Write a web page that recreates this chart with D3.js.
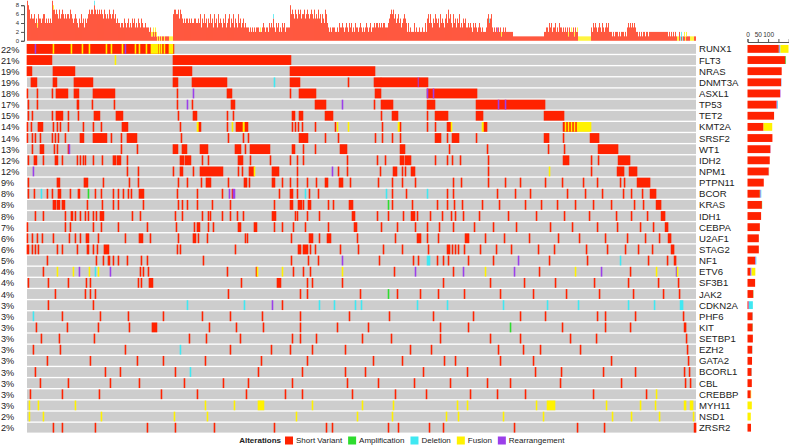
<!DOCTYPE html>
<html><head><meta charset="utf-8">
<script src="https://cdn.jsdelivr.net/npm/d3@7"></script>
<style>
body{margin:0;background:#fff;}
svg{display:block;font-family:"Liberation Sans",Arial,sans-serif;}
</style></head><body>
<svg id="c" width="789" height="446"></svg>
<script>
const N = 669;
const genes = ["RUNX1","FLT3","NRAS","DNMT3A","ASXL1","TP53","TET2","KMT2A","SRSF2","WT1","IDH2","NPM1","PTPN11","BCOR","KRAS","IDH1","CEBPA","U2AF1","STAG2","NF1","ETV6","SF3B1","JAK2","CDKN2A","PHF6","KIT","SETBP1","EZH2","GATA2","BCORL1","CBL","CREBBP","MYH11","NSD1","ZRSR2"];
const pctLabels = ["22%","21%","19%","19%","18%","17%","15%","14%","14%","13%","12%","12%","9%","8%","8%","8%","7%","6%","6%","5%","4%","4%","4%","3%","3%","3%","3%","3%","3%","3%","3%","3%","3%","2%","2%"];
const typeNames = {S:"Short Variant",A:"Amplification",D:"Deletion",F:"Fusion",R:"Rearrangement"};
const legendOrder = ["S","A","D","F","R"];

// per gene: sample index (single short variant) or [start, length, type]
const segments = [
 [[0,147],[26,1,"F"],[44,1,"F"],[55,1,"F"],[62,1,"F"],[79,1,"F"],[84,1,"F"],[95,1,"F"],[108,1,"F"],[112,1,"F"],[119,1,"F"],[124,7,"F"],[132,1,"F"],[134,1,"F"],[137,1,"F"],[142,4,"F"],[8,1,"R"],[98,1,"R"]],
 [[0,25],[146,118],[88,1,"F"]],
 [[0,5],[26,22],[146,19],[263,85]],
 [[4,6],[26,4],[47,19],[146,5],[165,35],[247,1,"D"],[263,10],321,[347,7],[354,37],[391,1,"R"],[392,9]],
 [0,10,25,[29,12],[47,5],[66,22],150,[166,1,"R"],[200,5],263,[272,17],[348,6],[400,50],[400,1,"R"],[406,1,"R"]],
 [1,10,50,51,65,87,150,[160,1,"R"],165,[204,4],[288,11],[315,1,"R"],347,[354,12],[400,8],[449,69],[471,1,"R"],[478,1,"R"]],
 [1,5,25,[29,7],41,51,[67,6],[89,7],151,[166,4],200,206,[265,3],[272,4],[298,8],354,[365,6],400,[408,13],[449,7],[517,20]],
 [0,4,[11,5],26,30,33,41,56,66,74,[95,6],153,[170,2,"F"],[172,2],200,[205,1,"F"],[209,7],[216,2,"F"],[218,3],265,268,271,275,288,308,[310,1,"F"],[321,1,"F"],355,[371,2,"F"],373,400,408,[420,4],[424,1,"F"],[455,2,"F"],[457,3],[536,14],[538,1,"F"],[541,1,"F"],[544,1,"F"],[547,1,"F"],[550,14,"F"]],
 [0,5,8,13,25,28,31,38,[53,4],[66,8],[74,6],84,94,[100,10],154,201,216,221,[272,9],298,311,348,355,365,373,[408,6],420,[425,7],449,[517,5],536,[563,9]],
 [5,[13,4],27,30,41,[42,1,"R"],94,110,[146,5],[155,5],[173,8],[208,6],218,[223,20],[265,3],276,288,[313,7],[373,5],422,460,521,537,[571,20]],
 [1,[7,3],16,[28,3],35,50,53,56,58,66,75,[86,3],[90,4],100,[153,4],[158,6],175,181,[211,5],223,243,263,270,276,320,350,358,[373,4],[378,6],408,420,425,433,461,[536,6],564,571,[591,12]],
 [[6,1,"R"],100,111,146,[153,3],166,[173,23],211,215,[222,5],[227,1,"F"],[245,7],270,[305,1,"R"],311,320,353,[366,4],375,378,[384,4],461,[522,1,"F"],564,[590,7],[602,8]],
 [1,[30,3],[57,4],76,102,111,151,160,174,[179,5],201,[217,3],222,[245,3],255,263,270,280,289,[298,3],[312,4],323,351,365,375,388,426,434,461,478,493,518,535,556,570,593,597,[610,13]],
 [1,7,[14,1,"D"],20,25,[31,3],43,[51,2],[61,1,"A"],68,74,86,91,96,101,104,[112,5],150,170,195,[202,1,"R"],205,[206,2,"R"],252,[263,3],270,[278,1,"D"],282,291,[359,1,"D"],365,379,[400,1,"D"],420,426,470,488,503,540,558,575,596,604,615,[623,6]],
 [[26,3],[30,3],[35,3],60,75,86,91,116,151,155,160,170,185,203,247,[263,3],[271,4],276,[281,3],301,306,[322,4],[361,1,"A"],365,385,410,420,427,435,455,472,498,514,530,548,566,584,607,616,[629,5]],
 [8,16,38,[44,2],48,53,58,61,66,69,[73,4],105,113,148,155,175,181,183,195,203,210,216,[245,4],268,270,280,292,[325,3],350,361,376,[384,4],390,403,415,424,428,436,452,481,509,537,562,589,604,620,[634,4]],
 [0,38,43,66,74,91,120,149,167,[170,3],181,186,[211,3],[227,3],247,255,266,278,301,[327,3],354,370,388,400,412,426,447,466,489,523,545,570,590,613,626,[638,3]],
 [0,5,10,15,26,42,48,53,[59,3],71,98,[112,4],123,151,[166,3],171,180,218,220,264,[282,4],292,[300,4],330,368,[390,4],400,411,[438,4],458,477,502,531,552,578,600,618,632,[641,3]],
 [[0,2],5,8,11,30,35,50,[60,2],66,70,[77,5],150,153,208,[271,3],[276,5],283,288,313,331,356,375,401,[420,3],425,428,431,437,453,469,484,511,527,559,580,598,611,625,[644,3]],
 [20,69,76,[81,2],86,91,100,114,120,176,264,281,291,[315,1,"R"],352,386,391,[400,3,"D"],410,416,421,441,466,[491,1,"R"],522,560,[593,1,"D"],621,640,[647,2]],
 [16,[30,1,"F"],[46,1,"F"],[52,1,"R"],[62,1,"F"],[68,1,"D"],[71,1,"F"],[83,1,"R"],113,116,121,200,229,[230,1,"F"],[255,1,"F"],266,276,283,[315,1,"F"],367,[388,1,"R"],426,[436,1,"R"],[458,1,"F"],[487,1,"R"],512,[548,1,"F"],[574,1,"R"],603,[629,1,"F"],[649,1,"R"],[650,1,"F"]],
 [1,21,41,59,63,111,114,[122,4],214,[250,4],280,285,315,416,463,497,528,567,601,631,651],
 [28,58,63,68,201,273,280,333,[361,1,"A"],370,393,411,437,473,506,539,572,606,636,652],
 [21,66,[160,1,"D"],[217,1,"D"],[245,1,"R"],255,[292,1,"D"],[307,1,"D"],[328,1,"D"],[334,1,"D"],[390,1,"D"],[420,1,"D"],[476,1,"D"],[520,1,"D"],[551,1,"D"],[601,1,"D"],[627,1,"D"],[653,3,"D"]],
 [[6,1,"D"],35,73,101,136,175,203,235,273,322,362,406,446,493,518,570,578,608,656],
 [9,40,71,102,[125,5],182,209,236,273,310,341,413,441,[483,1,"A"],535,578,603,[657,2]],
 [14,32,67,162,179,213,265,273,289,335,364,413,463,493,543,569,659],
 [6,33,98,[153,1,"D"],203,244,263,285,318,383,404,471,496,513,553,660],
 [20,63,110,136,178,234,280,346,375,417,428,473,506,584,661],
 [8,78,93,148,[163,1,"D"],231,275,318,338,396,440,508,534,576,608,657,662],
 [13,41,83,112,157,196,221,265,320,351,387,423,460,483,533,594,658,663],
 [3,35,72,134,170,219,258,275,325,368,399,443,470,498,566,619,[629,1,"F"]],
 [[2,1,"F"],[11,1,"F"],[48,1,"F"],[178,1,"F"],[207,1,"F"],[231,6,"F"],[285,1,"F"],[335,1,"F"],[366,1,"F"],[430,1,"F"],[440,1,"F"],[509,1,"F"],[520,8,"F"],[579,1,"F"],[613,1,"F"],[628,1,"F"],[657,2,"F"],[663,3,"F"]],
 [[2,1,"F"],[16,1,"F"],[74,1,"F"],[147,1,"F"],[180,1,"F"],[269,1,"F"],[330,1,"F"],[365,1,"F"],[419,1,"F"],[431,1,"F"],[476,1,"F"],[516,1,"F"],[585,1,"F"],[604,1,"F"],[632,1,"F"],[666,1,"F"]],
 [26,35,68,120,148,187,247,299,305,361,371,402,416,487,550,577,[667,2]]
];

// right-hand bars: number of alterations per gene by type
const countSV    = [152,184,166,163,158,141,129,78,121,111,108,103,79,60,70,66,60,55,55,37,13,37,28,5,25,25,26,23,22,20,21,16,0,0,17];
const countAmp   = [2,3,0,0,0,0,0,0,0,0,0,0,0,1,1,0,0,0,0,0,0,0,1,0,0,1,0,0,0,0,0,0,0,0,0];
const countRearr = [3,0,0,1,2,4,0,0,0,1,0,1,0,3,0,0,0,0,0,3,6,0,0,2,0,0,0,0,0,0,0,0,0,0,0];
const countDel   = [3,0,0,1,0,3,0,0,0,0,0,0,0,3,0,0,0,0,0,3,1,0,0,19,1,0,0,1,0,1,0,0,0,0,0];
const countFus   = [39,0,0,0,0,0,0,42,0,0,0,1,0,0,0,0,0,0,0,0,18,0,0,0,0,0,0,0,0,0,0,2,21,16,0];
const countTicks = [0,50,100,150];

// top: alterations per sample (one digit per sample)
const topCounts = [
 "98756 55645 46554 56645","45454 98767 65756 76565","66576 54565 43546 45354","56767 76976 76767 65765",
 "65765 67564 54434 43543","45343 54534 35435 43343","33232 23232 11111 11111","11111 16776 67576 54545",
 "54545 44554 45463 54645","35464 53645 36454 35463","45635 46354 36453 45343","33232 32323 33232 34323",
 "32434 36324 34232 43423","33386 76576 57675 66756","76567 65756 57564 65476","43232 33322 32433 43234",
 "32434 23243 32343 23234","32342 33434 43434 34433","34567 67564 56453 45654","24232 22423 22322 32242",
 "56464 35465 45364 54356","47564 36453 54634 35453","34343 24343 23432 32223","56556 32323 33232 23232",
 "22222 21111 11111 11111","11111 11111 11111 11223","32434 23342 32433 23232","32323 23232 31111 11111",
 "11113 24343 23432 43234","34222 12122 21212 22121","34343 43432 21212 12212","21222 22222 22222 22222",
 "21212 12121 11212 11212","11111 1111"
];
// top unit of a sample's bar that is not a short variant: [start, length, type]
const topTips = [[10,1,"F"],[26,1,"F"],[67,1,"D"],[124,7,"F"],[132,1,"F"],[134,1,"F"],[137,1,"F"],[142,4,"F"],
 [233,1,"F"],[246,1,"D"],[462,1,"D"],[470,1,"R"],[474,1,"F"],[541,1,"F"],[544,1,"F"],[547,1,"F"],[550,14,"F"],
 [650,2,"F"],[653,3,"D"],[657,3,"F"],[663,4,"F"]];
const topTicks = [0,2,4,6,8];

const color = {S:"#ff2200",A:"#2edc2e",D:"#3fe8f2",F:"#fff200",R:"#9b3fea"};
const svg = d3.select("#c");

const x = d3.scaleBand().domain(d3.range(N)).range([27,696]).paddingInner(0.12).paddingOuter(0);
const y = d3.scaleBand().domain(genes).range([44,432.6]).paddingInner(0.12);
const bw = x.bandwidth();
const bleed = 0.35; // marks blur slightly into neighbours, as in the reference

// row backgrounds
svg.append("g").selectAll("rect").data(genes).join("rect")
  .attr("x", x.range()[0]).attr("width", x.range()[1]-x.range()[0])
  .attr("y", d=>y(d)).attr("height", y.bandwidth()).attr("fill","#cdcdcd");

// alterations
const cells = [];
segments.forEach((list,gi)=>{
  list.forEach(e=>{
    const s = typeof e==="number" ? [e,1,"S"] : [e[0],e[1],e[2]||"S"];
    cells.push({g:genes[gi], start:s[0], len:s[1], type:s[2]});
  });
});
svg.append("g").selectAll("rect").data(cells).join("rect")
  .attr("x", d=>x(d.start)-bleed)
  .attr("width", d=>x(d.start+d.len-1)+bw-x(d.start)+2*bleed)
  .attr("y", d=>y(d.g)).attr("height", y.bandwidth())
  .attr("fill", d=>color[d.type]);

// top bar chart
const counts = topCounts.join("").replace(/\s+/g,"").split("").map(Number);
const tip = new Map();
topTips.forEach(t=>{ for(let i=t[0];i<t[0]+t[1];i++) tip.set(i,t[2]); });
const yTop = d3.scaleLinear().domain([0,8]).range([40.8,5.2]);
const topBars = [];
counts.forEach((c,i)=>{
  if(!c) return;
  const t = tip.get(i);
  const base = t ? c-1 : c;
  if(base>0) topBars.push({i, y0:0, y1:base, type:"S"});
  if(t) topBars.push({i, y0:base, y1:c, type:t});
});
svg.append("g").attr("opacity",0.85).selectAll("rect").data(topBars).join("rect")
  .attr("x", d=>x(d.i)).attr("width", bw)
  .attr("y", d=>yTop(d.y1)).attr("height", d=>yTop(d.y0)-yTop(d.y1))
  .attr("fill", d=>color[d.type]);

const gTopAxis = svg.append("g").attr("transform","translate(24,0)")
  .call(d3.axisLeft(yTop).tickValues(topTicks).tickSize(3).tickPadding(2));
gTopAxis.selectAll("text").attr("font-size","6px").attr("fill","#333").attr("dy","0.2em");
gTopAxis.selectAll("line,path").attr("stroke","#555");

// labels
svg.append("g").selectAll("text").data(genes).join("text")
  .attr("x", 1).attr("y", d=>y(d)+y.bandwidth()/2+0.6)
  .attr("dominant-baseline","central").attr("font-size","9.2px").attr("fill","#222")
  .text((d,i)=>pctLabels[i]);
svg.append("g").selectAll("text").data(genes).join("text")
  .attr("x", 699).attr("y", d=>y(d)+y.bandwidth()/2)
  .attr("dominant-baseline","central").attr("font-size","9.6px").attr("fill","#222")
  .text(d=>d);

// right bar chart
const table = genes.map((g,i)=>({g, S:countSV[i], A:countAmp[i], R:countRearr[i], D:countDel[i], F:countFus[i]}));
const stack = d3.stack().keys(["S","A","R","D","F"])(table);
const xR = d3.scaleLinear().domain([0,200]).range([747.5,788.7]);
const bh = y.bandwidth()*0.8;
svg.append("g").selectAll("g").data(stack).join("g")
  .attr("fill", d=>color[d.key])
  .selectAll("rect").data(d=>d).join("rect")
  .attr("x", d=>xR(d[0])).attr("width", d=>xR(d[1])-xR(d[0]))
  .attr("y", d=>y(d.data.g)+(y.bandwidth()-bh)/2).attr("height", bh);
const gR = svg.append("g").attr("transform","translate(0,42)")
  .call(d3.axisTop(xR).tickValues(countTicks).tickSize(3).tickPadding(2)
    .tickFormat(d=> d===150 ? "" : d));
gR.selectAll("text").attr("font-size","6.5px").attr("fill","#333");
gR.selectAll("line,path").attr("stroke","#555");

// legend
const lg = svg.append("g").attr("transform","translate(0,440.5)");
lg.append("text").attr("x",281).attr("y",0).attr("text-anchor","end")
  .attr("dominant-baseline","central").attr("font-size","8px").attr("font-weight","bold").attr("fill","#222")
  .text("Alterations");
let lx = 285;
legendOrder.forEach(k=>{
  lg.append("rect").attr("x",lx).attr("y",-4).attr("width",8).attr("height",8).attr("fill",color[k]);
  const t = lg.append("text").attr("x",lx+11).attr("y",0).attr("dominant-baseline","central")
    .attr("font-size","8px").attr("fill","#222").text(typeNames[k]);
  lx += 11 + t.node().getComputedTextLength() + 6;
});
</script>
</body></html>
